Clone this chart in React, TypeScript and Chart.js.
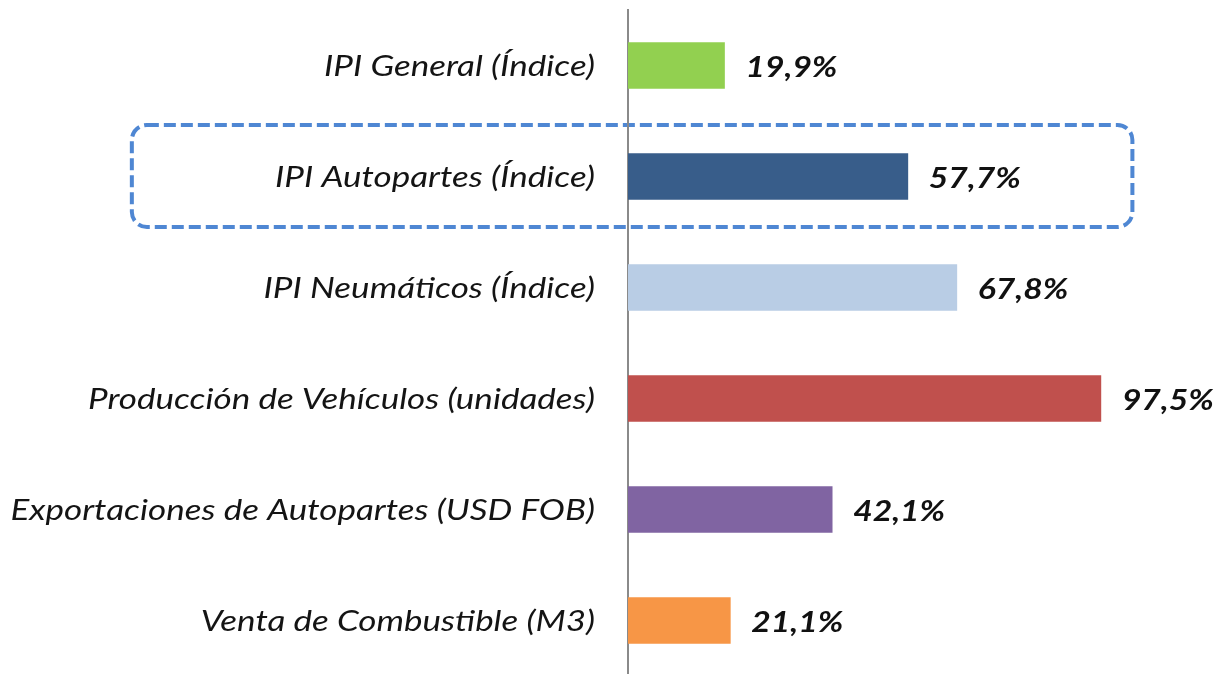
import React, { useEffect, useRef } from "react";
import { Chart, registerables } from "chart.js";

Chart.register(...registerables);

const categories = [
  "IPI General (Índice)",
  "IPI Autopartes (Índice)",
  "IPI Neumáticos (Índice)",
  "Producción de Vehículos (unidades)",
  "Exportaciones de Autopartes (USD FOB)",
  "Venta de Combustible (M3)",
];
const values = [19.9, 57.7, 67.8, 97.5, 42.1, 21.1];
const barColors = ["#92d050", "#385d8a", "#b9cde5", "#c0504d", "#8064a2", "#f79646"];
const highlightIndex = 1;
const highlightFrom = -102.3;
const highlightTo = 104;
const xMax = 120;

const FONT = "Lato, 'Open Sans', sans-serif";

export default function App() {
  const ref = useRef<HTMLCanvasElement | null>(null);

  useEffect(() => {
    document.body.style.margin = "0";
    const canvas = ref.current;
    if (!canvas) return;

    const highlightPlugin = {
      id: "highlightBox",
      beforeDraw(chart: any) {
        const { ctx, scales } = chart;
        const x = scales.x;
        const y = scales.y;
        const cy = y.getPixelForValue(highlightIndex);
        const half = (y.getPixelForValue(1) - y.getPixelForValue(0)) / 2;
        const left = x.getPixelForValue(highlightFrom);
        const right = x.getPixelForValue(highlightTo);
        const top = cy - half + 4;
        const bottom = cy + half - 5;
        ctx.save();
        ctx.strokeStyle = "#4f87d3";
        ctx.lineWidth = 4;
        ctx.setLineDash([12, 5]);
        ctx.beginPath();
        ctx.roundRect(left, top, right - left, bottom - top, 15);
        ctx.stroke();
        ctx.restore();
      },
    };

    // Category labels (stretched horizontally like the original's wide italic face)
    const categoryLabelPlugin = {
      id: "categoryLabels",
      afterDraw(chart: any) {
        const { ctx, scales, chartArea } = chart;
        const y = scales.y;
        ctx.save();
        ctx.font = `italic 28px ${FONT}`;
        ctx.fillStyle = "#141414";
        ctx.textAlign = "right";
        ctx.textBaseline = "middle";
        categories.forEach((label, i) => {
          ctx.save();
          ctx.translate(chartArea.left - 33, y.getPixelForValue(i) + 1);
          ctx.scale(1.25, 1);
          ctx.fillText(label, 0, 0);
          ctx.restore();
        });
        ctx.restore();
      },
    };

    const valueLabelPlugin = {
      id: "valueLabels",
      afterDatasetsDraw(chart: any) {
        const { ctx } = chart;
        const meta = chart.getDatasetMeta(0);
        ctx.save();
        ctx.font = `italic bold 28px ${FONT}`;
        ctx.fillStyle = "#111111";
        ctx.textAlign = "left";
        ctx.textBaseline = "middle";
        meta.data.forEach((bar: any, i: number) => {
          const txt = values[i].toFixed(1).replace(".", ",") + "%";
          ctx.save();
          ctx.translate(bar.x + 21, bar.y + 2);
          ctx.scale(1.2, 1);
          ctx.fillText(txt, 0, 0);
          ctx.restore();
        });
        ctx.restore();
      },
    };

    const chart = new Chart(canvas, {
      type: "bar",
      data: {
        labels: categories,
        datasets: [
          {
            data: values,
            backgroundColor: barColors,
            borderWidth: 0,
            barThickness: 46,
          },
        ],
      },
      options: {
        indexAxis: "y",
        animation: false,
        responsive: false,
        layout: { padding: { top: 10, bottom: 4, left: 0, right: 15 } },
        plugins: {
          legend: { display: false },
          tooltip: { enabled: false },
        },
        scales: {
          x: {
            display: false,
            min: 0,
            max: xMax,
          },
          y: {
            grid: { display: false, drawTicks: false },
            border: { display: true, color: "#8a8a8a", width: 2 },
            ticks: { display: false },
            afterFit(scale: any) {
              scale.width = 628;
              scale.paddingTop = 0;
              scale.paddingBottom = 0;
            },
          },
        },
      },
      plugins: [highlightPlugin, categoryLabelPlugin, valueLabelPlugin],
    } as any);

    return () => chart.destroy();
  }, []);

  return (
    <div style={{ position: "fixed", left: 0, top: 0, width: 1225, height: 674, overflow: "hidden", background: "#fff" }}>
      <canvas ref={ref} width={1225} height={680} style={{ width: 1225, height: 680, display: "block" }} />
    </div>
  );
}
